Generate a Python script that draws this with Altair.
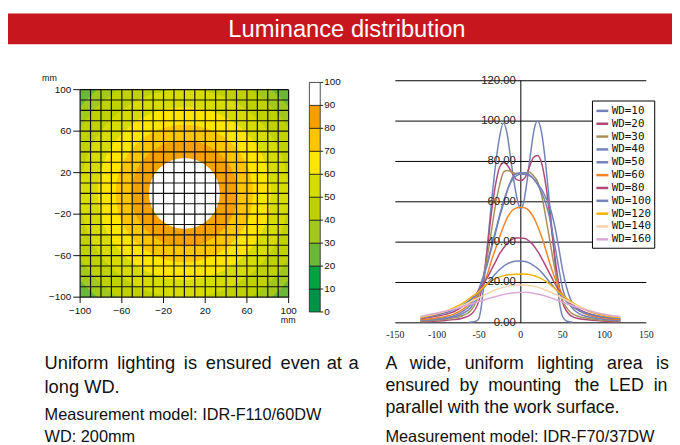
import math
import altair as alt
import pandas as pd

W, H = 672, 437
FONT = "Liberation Sans"

TITLE = "Luminance distribution"

# ---------------- heatmap (luminance %, contours) ----
LEVELS = [0, 10, 20, 30, 40, 50, 60, 70, 80, 90, 100]
BAND_COLORS = ["#009348", "#00a33f", "#6ab73a", "#a3c81d", "#bfd200",
               "#d6dc00", "#ffe500", "#fcc500", "#f4a100", "#ffffff"]
CONTOUR_LEVELS = [30, 40, 50, 60, 70, 80, 90]
CONTOUR_RADII = [130, 118, 100, 83, 66, 51, 34]      # mm from the centre
HEAT_TICKS = [-100, -60, -20, 20, 60, 100]
HEAT_TICK_LABELS = ["\u2212100", "\u221260", "\u221220", "20", "60", "100"]
GRID_MM = list(range(-100, 101, 10))

# ---------------- line chart ------------------------------------------------
LINE_X = [-120, -105, -90, -80, -70, -60, -50, -45, -40, -35, -30, -25, -20,
          -15, -10, -5, 0, 5, 10, 15, 20, 25, 30, 35, 40, 45, 50, 60, 70, 80,
          90, 105, 119]
WD10_X = [-62, -56, -51, -48, -45, -40, -35, -30, -25, -21, -17, -12, -7, -3,
          0, 3, 7, 12, 16, 20, 24, 28, 33, 38, 43, 47, 50, 55, 62]
WD10_Y = [0.3, 0.5, 1.5, 6, 16, 38, 60, 79, 93, 99, 95, 81, 67, 59, 56.5, 59,
          69, 85, 96, 100, 96, 85, 65, 43, 21, 8, 3, 0.8, 0.3]
WD20_Y = [0.5, 0.8, 1.2, 1.6, 2.3, 4, 11, 21, 37, 55, 69, 77.5, 79.5, 77.5, 74,
          71, 70.5, 72, 77, 82, 83, 79, 68, 52, 35, 20, 10, 3.5, 2, 1.5, 1.1,
          0.7, 0.5]
WD30_Y = [0.8, 1.2, 1.8, 2.5, 3.5, 6, 14, 22, 33, 46, 59, 69, 75, 75.5, 74.5,
          74, 74, 74.2, 74.8, 73, 70, 63, 52, 40, 28, 18, 11, 5, 3, 2.2, 1.6,
          1.1, 0.8]
WD40_Y = [1, 1.5, 2.2, 3, 4.5, 7.5, 15, 22, 29, 37, 45, 53, 60, 67, 72, 74,
          74.4, 74.4, 73.5, 71.5, 68.5, 64.5, 59, 51, 40, 28, 17, 8, 4.5, 3,
          2.2, 1.5, 1]
WD50_Y = [1.2, 1.8, 2.6, 3.6, 5.5, 9, 17, 23, 30, 38, 46, 54, 61, 67, 71, 73,
          73.6, 73.6, 73, 71.5, 69, 66, 62, 57, 49, 38, 26, 11, 6, 4, 2.8, 1.9,
          1.3]
WD60_Y = [1.5, 2.2, 3.2, 4.3, 6.5, 10, 15, 18.5, 24, 31, 37, 43, 48.5, 53,
          55.8, 57, 57.3, 57, 55.5, 52.5, 48, 42.5, 36, 29, 23, 18, 14, 9, 6,
          4, 3, 2.1, 1.5]
WD80_Y = [2, 3, 4.2, 5.5, 8, 11.5, 16, 19, 22.5, 26.5, 30.5, 34.5, 37.5, 40,
          41.5, 42, 42, 41.8, 40.5, 38.5, 35.5, 32, 28, 24, 20, 16.5, 13.5, 9,
          6.5, 4.8, 3.6, 2.6, 2]
WD100_Y = [2.3, 3.5, 5, 6.5, 8.5, 11.5, 15, 17, 19.5, 22, 24.5, 26.5, 28.3,
           29.5, 30.3, 30.6, 30.6, 30.4, 29.7, 28.5, 27, 25, 22.5, 20, 17.5,
           15, 12.5, 8.5, 6, 4.5, 3.5, 2.6, 2]
WD120_Y = [2.5, 4, 5.8, 7.5, 9.5, 12.5, 15.5, 17.5, 19.3, 20.8, 22, 22.8, 23.4,
           23.8, 24, 24.1, 24.2, 24.2, 24, 23.5, 22.8, 21.8, 20.5, 19, 17.3,
           15.5, 13.7, 10.5, 8, 6, 4.6, 3.2, 2.5]
WD140_Y = [3, 4.3, 5.8, 7, 8.6, 10.5, 12.5, 13.5, 14.5, 15.5, 16.4, 17.1, 17.7,
           18.2, 18.5, 18.7, 18.7, 18.7, 18.5, 18.2, 17.7, 17.1, 16.3, 15.4,
           14.4, 13.3, 12.2, 10, 8, 6.5, 5.2, 3.8, 3]
WD160_Y = [3.2, 4.5, 5.8, 6.8, 8, 9.3, 10.6, 11.2, 11.9, 12.5, 13.1, 13.6,
           14.1, 14.5, 14.8, 15, 15.1, 15.1, 15, 14.7, 14.3, 13.8, 13.2, 12.5,
           11.8, 11, 10.2, 8.7, 7.3, 6.1, 5, 3.8, 3.1]

WD_LABELS = ["WD=10", "WD=20", "WD=30", "WD=40", "WD=50", "WD=60", "WD=80",
             "WD=100", "WD=120", "WD=140", "WD=160"]
WD_COLORS = ["#7383b9", "#b0497a", "#a88f58", "#7383b9", "#7383b9", "#f28426",
             "#b0497a", "#7383b9", "#f4b300", "#f9d3a8", "#d9a9d6"]
LINE_Y_TICKS = [0, 20, 40, 60, 80, 100, 120]
LINE_X_TICKS = [-150, -100, -50, 0, 50, 100, 150]

LEFT_TEXT = ["Uniform\u2009 lighting\u2009 is\u2009 ensured\u2009 even\u200a at\u200a a", "long WD."]
LEFT_MODEL = ["Measurement model: IDR-F110/60DW", "WD: 200mm"]
RIGHT_TEXT = ["A \u00a0\u2009wide, \u00a0\u2009uniform \u00a0\u2009lighting \u00a0\u2009area \u00a0\u2009is",
              "ensured \u00a0by \u00a0mounting \u00a0\u2009the \u00a0LED \u00a0in",
              "parallel with the work surface."]
RIGHT_MODEL = ["Measurement model: IDR-F70/37DW"]

# ---------------- scales (pixel ranges on one canvas) -----------------------
HX = alt.Scale(domain=[-100, 100], range=[73, 284], nice=False, zero=False)
HY = alt.Scale(domain=[-100, 100], range=[290, 80], nice=False, zero=False)
HR = alt.Scale(type="linear", domain=[0, 100], range=[0, 105.5])
CBY = alt.Scale(domain=[0, 100], range=[305, 72.7], nice=False, zero=False)
LXS = alt.Scale(domain=[-150, 150], range=[392, 646], nice=False, zero=False)
LYS = alt.Scale(domain=[0, 120], range=[316, 71], nice=False, zero=False)

layers = []

# heatmap background square (20-30 band)
sq = pd.DataFrame({"x0": [-100], "x1": [100], "y0": [-100], "y1": [100],
                   "col": [BAND_COLORS[LEVELS.index(20)]]})
layers.append(alt.Chart(sq).mark_rect().encode(
    x=alt.X("x0:Q", scale=HX, axis=None), x2="x1:Q",
    y=alt.Y("y0:Q", scale=HY, axis=None), y2="y1:Q",
    color=alt.Color("col:N", scale=None)))

# contour discs
discs = pd.DataFrame({"cx": [0] * len(CONTOUR_RADII), "cy": [0] * len(CONTOUR_RADII),
                      "r": CONTOUR_RADII,
                      "col": [BAND_COLORS[LEVELS.index(l)] for l in CONTOUR_LEVELS]})
layers.append(alt.Chart(discs).mark_arc(theta=0, theta2=2 * math.pi).encode(
    x=alt.X("cx:Q", scale=HX, axis=None),
    y=alt.Y("cy:Q", scale=HY, axis=None),
    radius=alt.Radius("r:Q", scale=HR, stack=None),
    color=alt.Color("col:N", scale=None)))

# white crop around the measured square
mask = pd.DataFrame({"x0": [-140, 100, -140, -140], "x1": [-100, 140, 140, 140],
                     "y0": [-140, -140, 100, -140], "y1": [140, 140, 140, -100]})
layers.append(alt.Chart(mask).mark_rect(color="white").encode(
    x=alt.X("x0:Q", scale=HX, axis=None), x2="x1:Q",
    y=alt.Y("y0:Q", scale=HY, axis=None), y2="y1:Q"))

# grid of the measurement cells
grid = pd.DataFrame({"g": GRID_MM, "lo": -100, "hi": 100})
layers.append(alt.Chart(grid).mark_rule(color="#111", strokeWidth=1.2).encode(
    x=alt.X("g:Q", scale=HX, axis=None),
    y=alt.Y("lo:Q", scale=HY, axis=None), y2="hi:Q"))
layers.append(alt.Chart(grid).mark_rule(color="#111", strokeWidth=1.2).encode(
    y=alt.Y("g:Q", scale=HY, axis=None),
    x=alt.X("lo:Q", scale=HX, axis=None), x2="hi:Q"))

ht = pd.DataFrame({"t": HEAT_TICKS, "lab": HEAT_TICK_LABELS})
layers.append(alt.Chart(ht).mark_rule(color="#111").encode(
    x=alt.X("t:Q", scale=HX, axis=None), y=alt.value(290), y2=alt.value(296)))
layers.append(alt.Chart(ht).mark_rule(color="#111").encode(
    y=alt.Y("t:Q", scale=HY, axis=None), x=alt.value(66), x2=alt.value(73)))
layers.append(alt.Chart(ht).mark_text(font=FONT, fontSize=10, color="#111",
                                      baseline="middle").encode(
    x=alt.X("t:Q", scale=HX, axis=None), y=alt.value(304), text="lab:N"))
layers.append(alt.Chart(ht).mark_text(font=FONT, fontSize=10, color="#111",
                                      baseline="middle", align="right").encode(
    y=alt.Y("t:Q", scale=HY, axis=None), x=alt.value(64), text="lab:N"))
mm = pd.DataFrame({"t": ["mm"]})
layers.append(alt.Chart(mm).mark_text(font=FONT, fontSize=9, color="#111").encode(
    x=alt.value(42), y=alt.value(68.5), text="t:N"))
layers.append(alt.Chart(mm).mark_text(font=FONT, fontSize=9, color="#111").encode(
    x=alt.value(283.5), y=alt.value(313), text="t:N"))

# colour bar
cb = pd.DataFrame({"lo": LEVELS[:-1], "hi": LEVELS[1:], "col": BAND_COLORS})
layers.append(alt.Chart(cb).mark_rect(stroke="#222", strokeWidth=0.8).encode(
    x=alt.value(305), x2=alt.value(316),
    y=alt.Y("lo:Q", scale=CBY, axis=None), y2="hi:Q",
    color=alt.Color("col:N", scale=None)))
cbl = pd.DataFrame({"v": LEVELS, "lab": [str(v) for v in LEVELS]})
layers.append(alt.Chart(cbl).mark_rule(color="#222").encode(
    y=alt.Y("v:Q", scale=CBY, axis=None), x=alt.value(316), x2=alt.value(319)))
layers.append(alt.Chart(cbl).mark_text(font=FONT, fontSize=10, color="#111",
                                       align="left", baseline="middle").encode(
    y=alt.Y("v:Q", scale=CBY, axis=None), x=alt.value(320), text="lab:N"))

# line chart grid + axis
lg = pd.DataFrame({"v": LINE_Y_TICKS, "lo": -150, "hi": 150,
                   "lab": ["%.2f" % v for v in LINE_Y_TICKS]})
layers.append(alt.Chart(lg).mark_rule(color="#000", strokeWidth=1).encode(
    y=alt.Y("v:Q", scale=LYS, axis=None),
    x=alt.X("lo:Q", scale=LXS, axis=None), x2="hi:Q"))
vax = pd.DataFrame({"x": [0], "lo": [0], "hi": [120]})
layers.append(alt.Chart(vax).mark_rule(color="#000", strokeWidth=1).encode(
    x=alt.X("x:Q", scale=LXS, axis=None),
    y=alt.Y("lo:Q", scale=LYS, axis=None), y2="hi:Q"))

rows = []
for lab, ys in zip(WD_LABELS[1:], [WD20_Y, WD30_Y, WD40_Y, WD50_Y, WD60_Y,
                                    WD80_Y, WD100_Y, WD120_Y, WD140_Y, WD160_Y]):
    rows += [{"x": x, "y": y, "wd": lab} for x, y in zip(LINE_X, ys)]
rows = [{"x": x, "y": y, "wd": "WD=10"} for x, y in zip(WD10_X, WD10_Y)] + rows
lines = pd.DataFrame(rows)
layers.append(alt.Chart(lines).mark_line(interpolate="monotone", strokeWidth=1.5).encode(
    x=alt.X("x:Q", scale=LXS, axis=None),
    y=alt.Y("y:Q", scale=LYS, axis=None),
    color=alt.Color("wd:N", sort=WD_LABELS,
                    scale=alt.Scale(domain=WD_LABELS, range=WD_COLORS),
                    legend=alt.Legend(title=None, orient="none", legendX=591,
                                      legendY=91, symbolType="stroke",
                                      symbolSize=144, symbolStrokeWidth=2.5,
                                      labelFont="DejaVu Sans Mono",
                                      labelFontSize=11, labelColor="#111",
                                      rowPadding=-0.3, padding=3, labelOffset=2,
                                      strokeColor="black", fillColor="white"))))

layers.append(alt.Chart(lg).mark_text(font=FONT, fontSize=11.5, color="#222",
                                      align="right", baseline="middle").encode(
    y=alt.Y("v:Q", scale=LYS, axis=None), x=alt.value(514), text="lab:N"))
lx = pd.DataFrame({"v": LINE_X_TICKS, "lab": [str(v) for v in LINE_X_TICKS]})
layers.append(alt.Chart(lx).mark_text(font="Liberation Sans Narrow", fontSize=10,
                                      color="#222", baseline="middle").encode(
    x=alt.X("v:Q", scale=LXS, axis=None), y=alt.value(328), text="lab:N"))

# banner
bn = pd.DataFrame({"t": [TITLE]})
layers.append(alt.Chart(bn).mark_rect(color="#c8161e").encode(
    x=alt.value(0), x2=alt.value(W), y=alt.value(3), y2=alt.value(34)))
layers.append(alt.Chart(bn).mark_text(font=FONT, fontSize=24, color="white",
                                      baseline="alphabetic").encode(
    x=alt.value(343), y=alt.value(27), text="t:N"))

# captions
def caption(texts, x, ys, size):
    d = pd.DataFrame({"t": texts, "y": ys})
    return alt.Chart(d).mark_text(font=FONT, fontSize=size, color="#111",
                                  align="left", baseline="alphabetic").encode(
        x=alt.value(x), y=alt.Y("y:Q", scale=None, axis=None), text="t:N")

layers.append(caption(LEFT_TEXT, 37, [362.5, 386.5], 18.5))
layers.append(caption(LEFT_MODEL, 37, [414, 437], 16.5))
layers.append(caption(RIGHT_TEXT, 382, [362.5, 384.5, 407], 18))
layers.append(caption(RIGHT_MODEL, 382, [437], 16.5))

chart = alt.layer(*layers).resolve_scale(
    x="independent", y="independent", color="independent", radius="independent"
).properties(
    width=W, height=H, padding=0, background="white",
    autosize=alt.AutoSizeParams(type="none")
).configure_view(stroke=None)

chart.save("out.html", embed_options={"renderer": "svg", "actions": False})
